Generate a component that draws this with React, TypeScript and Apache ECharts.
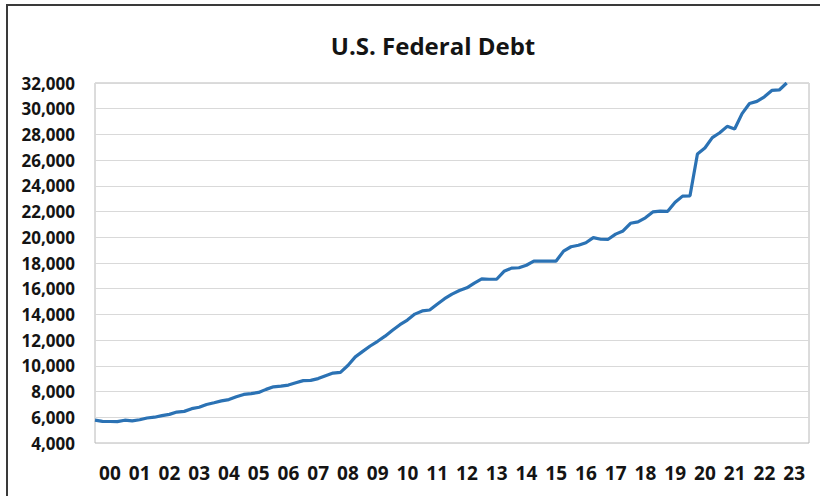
import React, { useEffect, useRef } from "react";
import * as echarts from "echarts";

const title = "U.S. Federal Debt";
const yearLabels = ["00","01","02","03","04","05","06","07","08","09","10","11","12","13","14","15","16","17","18","19","20","21","22","23"];
// Quarterly federal debt, billions of dollars (2000 Q1 .. 2023 Q2)
const debtQuarterly = [
  5773, 5686, 5674, 5662,
  5773, 5727, 5807, 5943,
  6006, 6126, 6228, 6405,
  6460, 6670, 6783, 6998,
  7131, 7274, 7379, 7596,
  7777, 7836, 7933, 8170,
  8371, 8420, 8507, 8680,
  8849, 8867, 9008, 9229,
  9437, 9492, 10025, 10700,
  11127, 11545, 11910, 12311,
  12773, 13202, 13562, 14025,
  14270, 14343, 14790, 15223,
  15582, 15856, 16066, 16433,
  16771, 16738, 16738, 17352,
  17601, 17632, 17824, 18141,
  18152, 18152, 18151, 18922,
  19264, 19381, 19573, 19977,
  19846, 19845, 20245, 20493,
  21090, 21195, 21516, 21974,
  22028, 22023, 22719, 23201,
  23224, 26477, 26945, 27748,
  28133, 28629, 28428, 29617,
  30401, 30569, 30928, 31420,
  31458, 32000,
];
const yMin = 4000;
const yMax = 32000;
const yStep = 2000;

export default function App() {
  const ref = useRef<HTMLDivElement>(null);
  useEffect(() => {
    if (!ref.current) return;
    const chart = echarts.init(ref.current, null, { renderer: "svg" });
    const points = debtQuarterly.map((v, i) => [i / 4, v]);
    chart.setOption({
      animation: false,
      backgroundColor: "#ffffff",
      title: {
        text: title,
        left: 428,
        top: 28,
        textAlign: "center",
        textStyle: { fontFamily: "Open Sans", fontWeight: "bold", fontSize: 24, color: "#141414" },
      },
      graphic: [
        { type: "line", shape: { x1: 7, y1: 5, x2: 7, y2: 496 }, style: { stroke: "#3a3a3a", lineWidth: 2 } },
        { type: "line", shape: { x1: 6, y1: 5, x2: 820, y2: 5 }, style: { stroke: "#3a3a3a", lineWidth: 2 } },
      ],
      grid: {
        left: 95,
        top: 83,
        right: 11,
        bottom: 53,
        show: true,
        borderColor: "#b8b8b8",
        borderWidth: 1,
      },
      xAxis: [
        {
          type: "category",
          data: yearLabels,
          boundaryGap: true,
          axisLine: { show: false },
          axisTick: { show: false },
          axisLabel: {
            margin: 20,
            fontFamily: "Open Sans",
            fontWeight: "bold",
            fontSize: 19,
            color: "#141414",
          },
        },
        {
          type: "value",
          min: 0,
          max: yearLabels.length,
          show: false,
          splitLine: { show: false },
        },
      ],
      yAxis: {
        type: "value",
        min: yMin,
        max: yMax,
        interval: yStep,
        axisLine: { show: false },
        axisTick: { show: false },
        splitLine: { lineStyle: { color: "#d9d9d9", width: 1 } },
        axisLabel: {
          margin: 20,
          fontFamily: "Open Sans",
          fontWeight: "bold",
          fontSize: 17,
          color: "#141414",
          formatter: (v: number) => v.toLocaleString("en-US"),
        },
      },
      series: [
        {
          type: "line",
          xAxisIndex: 1,
          data: points,
          showSymbol: false,
          symbol: "none",
          lineStyle: { color: "#2B72B4", width: 3.2 },
          clip: true,
        },
      ],
    });
    return () => chart.dispose();
  }, []);
  return (
    <div
      ref={ref}
      style={{ position: "absolute", left: 0, top: 0, width: 820, height: 496 }}
    />
  );
}
